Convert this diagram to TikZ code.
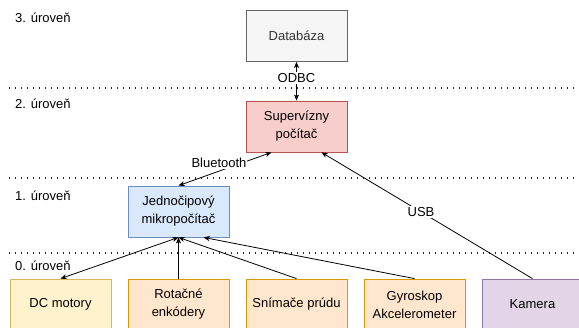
\documentclass[tikz,border=0pt]{standalone}
\usepackage{fontspec}
\setmainfont{Liberation Sans}
\usetikzlibrary{arrows.meta}

\definecolor{dbfill}{HTML}{F5F5F5}
\definecolor{dbline}{HTML}{666666}
\definecolor{dbtext}{HTML}{333333}
\definecolor{pcfill}{HTML}{F8CECC}
\definecolor{pcline}{HTML}{B85450}
\definecolor{mcfill}{HTML}{DAE8FC}
\definecolor{mcline}{HTML}{6C8EBF}
\definecolor{dcfill}{HTML}{FFF2CC}
\definecolor{dcline}{HTML}{D6B656}
\definecolor{snfill}{HTML}{FFE6CC}
\definecolor{snline}{HTML}{D79B00}
\definecolor{camfill}{HTML}{E1D5E7}
\definecolor{camline}{HTML}{9673A6}

\begin{document}
\begin{tikzpicture}[x=1pt, y=-1pt,
    box/.style={draw, line width=0.8pt, minimum width=101pt, minimum height=51pt,
        align=center, inner sep=2pt, font=\fontsize{13}{18}\selectfont},
    level/.style={anchor=west, inner sep=0pt, font=\fontsize{13}{15}\selectfont},
    tip/.tip={Stealth[length=6pt, width=5pt, inset=1.5pt]},
    link/.style={line width=0.8pt, -tip},
    duplex/.style={line width=0.8pt, tip-tip},
    tag/.style={fill=white, inner sep=1pt, font=\fontsize{13}{15}\selectfont},
    divider/.style={line width=1.4pt, dash pattern=on 1.4pt off 4.6pt, black!85}]
    \useasboundingbox (0,0) rectangle (579,328);

    % Level dividers
    \coordinate (d3a) at (9,88);   \coordinate (d3b) at (579,88);
    \coordinate (d2a) at (9,178);  \coordinate (d2b) at (579,178);
    \coordinate (d1a) at (9,253);  \coordinate (d1b) at (579,253);
    \draw[divider] (d3a) -- (d3b);
    \draw[divider] (d2a) -- (d2b);
    \draw[divider] (d1a) -- (d1b);

    % Level labels
    \node[level] (l3) at (15,18)  {3. úroveň};
    \node[level] (l2) at (15,104) {2. úroveň};
    \node[level] (l1) at (15,196) {1. úroveň};
    \node[level] (l0) at (15,266) {0. úroveň};

    % Boxes
    \node[box, fill=dbfill, draw=dbline, text=dbtext] (db) at (296.5,36) {Databáza};
    \node[box, fill=pcfill, draw=pcline] (pc) at (296.5,126.5) {Supervízny\\počítač};
    \node[box, fill=mcfill, draw=mcline] (mc) at (178.5,211.5) {Jednočipový\\mikropočítač};

    \node[box, fill=dcfill, draw=dcline] (dc)  at (60.5,304.5)  {DC motory};
    \node[box, fill=snfill, draw=snline] (enc) at (178.5,304.5) {Rotačné\\enkódery};
    \node[box, fill=snfill, draw=snline] (cur) at (296.5,304.5) {Snímače prúdu};
    \node[box, fill=snfill, draw=snline] (imu) at (414.5,304.5) {Gyroskop\\Akcelerometer};
    \node[box, fill=camfill, draw=camline] (cam) at (532.5,304.5) {Kamera};

    % Connections
    \draw[duplex] (db.south) -- (pc.north);
    \node[tag] (odbc) at (296.5,78) {ODBC};

    \draw[duplex] ([xshift=-25pt]pc.south) -- (mc.north);
    \node[tag] (bt) at (219,163) {Bluetooth};

    \draw[link] (cam.north) -- ([xshift=25pt]pc.south);
    \node[tag] (usb) at (421,212) {USB};

    \draw[duplex] (dc.north) -- (mc.south);
    \draw[link] (enc.north) -- (mc.south);
    \draw[link] (cur.north) -- (mc.south);
    \draw[link] (imu.north) -- ([xshift=25pt]mc.south);

\end{tikzpicture}
\end{document}
